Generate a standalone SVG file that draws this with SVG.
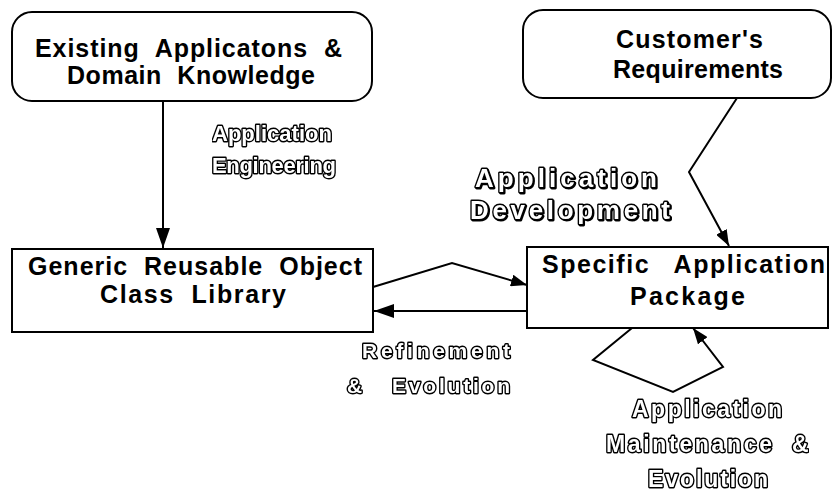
<svg xmlns="http://www.w3.org/2000/svg" width="833" height="498" viewBox="0 0 833 498">
  <style>
    .box { fill: #fff; stroke: #000; stroke-width: 2; }
    .label { font-family: "Liberation Sans", Arial, sans-serif; font-weight: bold; font-size: 25px; fill: #000; word-spacing: 8px; }
    .outline { font-family: "Liberation Sans", Arial, sans-serif; font-weight: bold; fill: #fff; stroke: #000; stroke-width: 2.8; stroke-linejoin: round; paint-order: stroke; word-spacing: 6px; }
    .shadow { font-family: "Liberation Sans", Arial, sans-serif; font-weight: bold; fill: #000; stroke: #000; stroke-width: 2.8; stroke-linejoin: round; }
    .edge { fill: none; stroke: #000; stroke-width: 2; stroke-linejoin: miter; }
  </style>
  <defs>
    <marker id="arrow" viewBox="0 0 20 14" refX="20" refY="7" markerWidth="20" markerHeight="14" markerUnits="userSpaceOnUse" orient="auto">
      <path d="M0,0 L20,7 L0,14 Z" fill="#000"/>
    </marker>
    <marker id="arrowSmall" viewBox="0 0 16 12" refX="16" refY="6" markerWidth="16" markerHeight="12" markerUnits="userSpaceOnUse" orient="auto">
      <path d="M0,0 L16,6 L0,12 Z" fill="#000"/>
    </marker>
    <!-- pass-through filter: renders the outlined lettering as a plain grey-scale layer -->
    <filter id="flat" x="0" y="0" width="1" height="1" color-interpolation-filters="sRGB">
      <feColorMatrix type="saturate" values="0"/>
    </filter>
  </defs>

  <rect width="833" height="498" fill="#fff"/>

  <!-- nodes -->
  <g id="existing">
    <rect class="box" x="12" y="12" width="360" height="89" rx="20"/>
    <text class="label" x="35" y="57" textLength="307" lengthAdjust="spacing">Existing Applicatons &amp;</text>
    <text class="label" x="67" y="84" textLength="248" lengthAdjust="spacing">Domain Knowledge</text>
  </g>

  <g id="customer">
    <rect class="box" x="523" y="10" width="308" height="88" rx="20"/>
    <text class="label" x="616" y="48" textLength="147" lengthAdjust="spacing">Customer's</text>
    <text class="label" x="613" y="78" textLength="170" lengthAdjust="spacing">Requirements</text>
  </g>

  <g id="generic">
    <rect class="box" x="12" y="249" width="361" height="83"/>
    <text class="label" x="28" y="275" textLength="334" lengthAdjust="spacing">Generic Reusable Object</text>
    <text class="label" x="100" y="303" textLength="186" lengthAdjust="spacing">Class Library</text>
  </g>

  <g id="specific">
    <rect class="box" x="527" y="247" width="301" height="81"/>
    <text class="label" x="542" y="273" textLength="283" lengthAdjust="spacing" style="word-spacing:16px">Specific Application</text>
    <text class="label" x="630" y="305" textLength="115" lengthAdjust="spacing">Package</text>
  </g>

  <!-- connectors -->
  <g id="connectors">
    <path class="edge" d="M163,101 L163,248" marker-end="url(#arrow)"/>
    <path class="edge" d="M737,98 L689,172 L729,246" marker-end="url(#arrowSmall)"/>
    <path class="edge" d="M373,287 L452,263 L527,285" marker-end="url(#arrowSmall)"/>
    <path class="edge" d="M527,311 L374,311" stroke-width="3" marker-end="url(#arrow)"/>
    <path class="edge" d="M632,328 L593,360 L673,392 L723,367 L693,328" marker-end="url(#arrowSmall)"/>
  </g>

  <!-- connector labels (outlined lettering) -->
  <g id="edge-labels" filter="url(#flat)">
    <text class="outline" font-size="22" x="212" y="141" textLength="120" lengthAdjust="spacing">Application</text>
    <text class="outline" font-size="22" x="212" y="173" textLength="124" lengthAdjust="spacing">Engineering</text>

    <!-- drop shadow under the development label -->
    <text class="shadow" font-size="26" x="476" y="188" textLength="182" lengthAdjust="spacing">Application</text>
    <text class="shadow" font-size="26" x="471" y="220" textLength="200" lengthAdjust="spacing">Development</text>
    <text class="outline" font-size="26" x="475" y="187" textLength="182" lengthAdjust="spacing">Application</text>
    <text class="outline" font-size="26" x="470" y="219" textLength="200" lengthAdjust="spacing">Development</text>

    <text class="outline" font-size="21" x="362" y="358" textLength="148" lengthAdjust="spacing">Refinement</text>
    <text class="outline" font-size="21" x="347" y="393">&amp;</text>
    <text class="outline" font-size="21" x="392" y="393" textLength="118" lengthAdjust="spacing">Evolution</text>

    <text class="outline" font-size="23" x="632" y="417" textLength="150" lengthAdjust="spacing">Application</text>
    <text class="outline" font-size="23" x="606" y="452" textLength="166" lengthAdjust="spacing">Maintenance</text>
    <text class="outline" font-size="23" x="792" y="452">&amp;</text>
    <text class="outline" font-size="23" x="648" y="487" textLength="120" lengthAdjust="spacing">Evolution</text>
  </g>
</svg>
